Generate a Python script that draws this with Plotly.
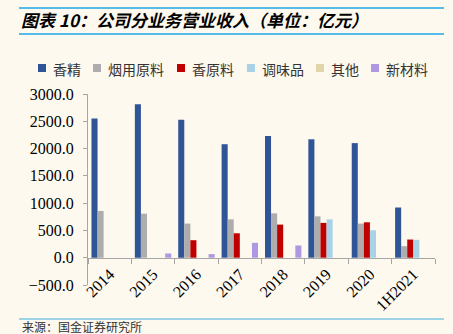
import plotly.graph_objects as go

categories = ["2014", "2015", "2016", "2017", "2018", "2019", "2020", "1H2021"]
series_names = ["香精", "烟用原料", "香原料", "调味品", "其他", "新材料"]
xiangjing = [2550, 2810, 2530, 2080, 2230, 2170, 2100, 920]
yanyong = [857, 807, 625, 703, 813, 758, 625, 211]
xiangyuanliao = [0, 0, 321, 448, 607, 638, 649, 333]
tiaoweipin = [0, 0, 0, 0, 0, 703, 503, 328]
qita = [0, 0, 0, 0, 0, 0, 0, 0]
xincailiao = [0, 78, 66, 273, 224, 0, 0, 0]
y_ticks = [-500, 0, 500, 1000, 1500, 2000, 2500, 3000]

values = [xiangjing, yanyong, xiangyuanliao, tiaoweipin, qita, xincailiao]
colors = ["#2F5597", "#ADADAD", "#C00000", "#A9D2E6", "#E2D5AA", "#AE98E2"]
legend_square_px = [38, 93, 177, 247, 316, 371]

W, H = 453, 334
ML, MR, MT, MB = 88, 18, 94, 49
pw = W - ML - MR
ph = H - MT - MB


def px_x(x):
    return (x - ML) / pw


def px_y(y):
    return (H - MB - y) / ph


fig = go.Figure()
for name, vals, col in zip(series_names, values, colors):
    fig.add_trace(go.Bar(name=name, x=categories, y=vals,
                         marker=dict(color=col, line=dict(width=0))))

axis_grey = "#A6A6A6"
shapes = [
    dict(type="line", xref="paper", yref="paper", x0=px_x(19), x1=px_x(444), y0=px_y(8), y1=px_y(8),
         line=dict(color="#1CA6E6", width=1.5)),
    dict(type="line", xref="paper", yref="paper", x0=px_x(19), x1=px_x(444), y0=px_y(34), y1=px_y(34),
         line=dict(color="#1CA6E6", width=1.5)),
    dict(type="line", xref="paper", yref="paper", x0=px_x(19), x1=px_x(444), y0=px_y(319), y1=px_y(319),
         line=dict(color="#7EC8E3", width=1.5)),
]
annotations = [
    dict(text="来源：国金证券研究所", xref="paper", yref="paper", x=px_x(20), y=px_y(326),
         xanchor="left", yanchor="middle", showarrow=False,
         font=dict(family="Noto Sans CJK SC", size=12, color="#333333")),
]
# legend (drawn as swatches + labels)
for name, col, sx in zip(series_names, colors, legend_square_px):
    shapes.append(dict(type="rect", xref="paper", yref="paper",
                       x0=px_x(sx), x1=px_x(sx + 8), y0=px_y(72), y1=px_y(64),
                       fillcolor=col, line=dict(width=0)))
    annotations.append(dict(text=name, xref="paper", yref="paper", x=px_x(sx + 13), y=px_y(68.5),
                            xanchor="left", yanchor="middle", showarrow=False,
                            font=dict(family="Noto Sans CJK SC", size=14, color="#333333")))

fig.update_layout(
    width=W, height=H,
    margin=dict(l=ML, r=MR, t=MT, b=MB, autoexpand=False),
    paper_bgcolor="#FEF9EF", plot_bgcolor="#FEF9EF",
    barmode="group", bargap=0.16, bargroupgap=0,
    showlegend=False,
    title=dict(text="图表 10：公司分业务营业收入（单位：亿元）", xref="container", yref="container",
               x=21 / W, xanchor="left", y=1 - 21 / H, yanchor="middle",
               font=dict(family="Noto Sans CJK SC", size=17, color="#000000", weight="bold", style="italic")),
    yaxis=dict(range=[-500, 3000], tickvals=y_ticks, tickformat=".1f",
               showgrid=False, zeroline=False, showline=True, linecolor=axis_grey, linewidth=1,
               ticks="outside", ticklen=4, tickcolor=axis_grey, ticklabelstandoff=6,
               tickfont=dict(family="Liberation Serif", size=16, color="#000000")),
    xaxis=dict(type="category", anchor="free", position=500 / 3500,
               showgrid=False, zeroline=False, showline=True, linecolor=axis_grey, linewidth=1,
               ticks="outside", tickson="boundaries", ticklen=5, tickcolor=axis_grey,
               tickangle=-45,
               tickfont=dict(family="Liberation Serif", size=16, color="#000000")),
    shapes=shapes,
    annotations=annotations,
)

fig.write_html("out.html")
